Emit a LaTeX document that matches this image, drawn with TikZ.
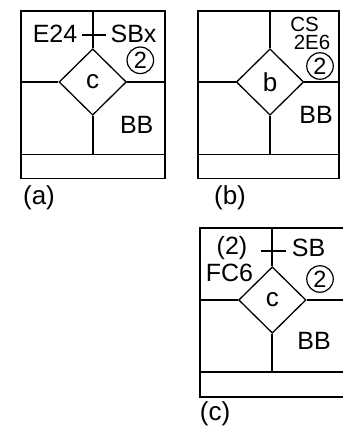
\documentclass[tikz,border=0pt]{standalone}
\usepackage{fontspec}
\setmainfont{Liberation Sans}
\usetikzlibrary{shapes.geometric}
\begin{document}
\begin{tikzpicture}[x=1pt,y=-1pt,
  ln/.style={line width=1.7pt},
  dia/.style={draw,shape=diamond,line width=1.3pt,minimum width=67.4pt,minimum height=66.4pt,inner sep=0pt,font=\fontsize{26}{26}\selectfont},
  txt/.style={inner sep=0pt,font=\fontsize{25}{25}\selectfont},
  small/.style={inner sep=0pt,font=\fontsize{20.5}{20.5}\selectfont},
  caption/.style={inner sep=0pt,font=\fontsize{26}{26}\selectfont},
  circ/.style={draw,circle,line width=1.2pt,minimum size=26.5pt,inner sep=0pt,font=\fontsize{23.5}{23.5}\selectfont},
]
\useasboundingbox (0,0) rectangle (342,430);

% ---------- panel (a)
\draw[ln] (20.7,11) rectangle (165,178.5);
\coordinate (aL) at (20.7,82);
\coordinate (aR) at (165,82);
\coordinate (aT) at (92.7,11);
\coordinate (aB) at (92.7,154.5);
\coordinate (aBL) at (20.7,154.5);
\coordinate (aBR) at (165,154.5);
\draw[ln] (aBL) -- (aBR);
\node[dia] (da) at (92.7,82) {c};
\draw[ln] (da.north) -- (aT);
\draw[ln] (da.south) -- (aB);
\draw[ln] (da.west) -- (aL);
\draw[ln] (da.east) -- (aR);
\coordinate (atl) at (81.7,35);
\coordinate (atr) at (106,35);
\draw[ln] (atl) -- (atr);
\node[txt,anchor=base] (e24) at (55,42.5) {E24};
\node[txt,anchor=base] (sbx) at (133.5,42.5) {SBx};
\node[circ] (ca) at (140.3,60.3) {2};
\node[txt,anchor=base] (bba) at (136.7,133.3) {BB};
\node[caption] (la) at (39,197.5) {(a)};

% ---------- panel (b)
\draw[ln] (197.7,11) rectangle (339.3,178.5);
\coordinate (bL) at (197.7,82);
\coordinate (bR) at (339.3,82);
\coordinate (bT) at (270,11);
\coordinate (bB) at (270,154.5);
\coordinate (bBL) at (197.7,154.5);
\coordinate (bBR) at (339.3,154.5);
\draw[ln] (bBL) -- (bBR);
\node[dia] (db) at (270,82) {b};
\draw[ln] (db.north) -- (bT);
\draw[ln] (db.south) -- (bB);
\draw[ln] (db.west) -- (bL);
\draw[ln] (db.east) -- (bR);
\node[small,anchor=base] (cs) at (304.5,31.7) {CS};
\node[small,anchor=base] (e6) at (312,50) {2E6};
\node[circ] (cb) at (320,66) {2};
\node[txt,anchor=base] (bbb) at (316,123.3) {BB};
\node[caption] (lb) at (230,197.5) {(b)};

% ---------- panel (c)
\draw[ln] (200,228.3) rectangle (343.5,396.7);
\coordinate (cL) at (200,300);
\coordinate (cR) at (343.5,300);
\coordinate (cT) at (272.3,228.3);
\coordinate (cB) at (272.3,371.7);
\coordinate (cBL) at (200,371.7);
\coordinate (cBR) at (343.5,371.7);
\draw[ln] (cBL) -- (cBR);
\node[dia] (dc) at (272.3,300) {c};
\draw[ln] (dc.north) -- (cT);
\draw[ln] (dc.south) -- (cB);
\draw[ln] (dc.west) -- (cL);
\draw[ln] (dc.east) -- (cR);
\coordinate (ctl) at (261,251);
\coordinate (ctr) at (286,251);
\draw[ln] (ctl) -- (ctr);
\node[txt,anchor=base] (p2) at (232,254) {(2)};
\node[txt,anchor=base] (sb) at (308.5,256.5) {SB};
\node[txt,anchor=base] (fc6) at (229.5,281.5) {FC6};
\node[circ] (cc) at (320,279) {2};
\node[txt,anchor=base] (bbc) at (314,349) {BB};
\node[caption] (lc) at (215,414) {(c)};
\end{tikzpicture}
\end{document}
